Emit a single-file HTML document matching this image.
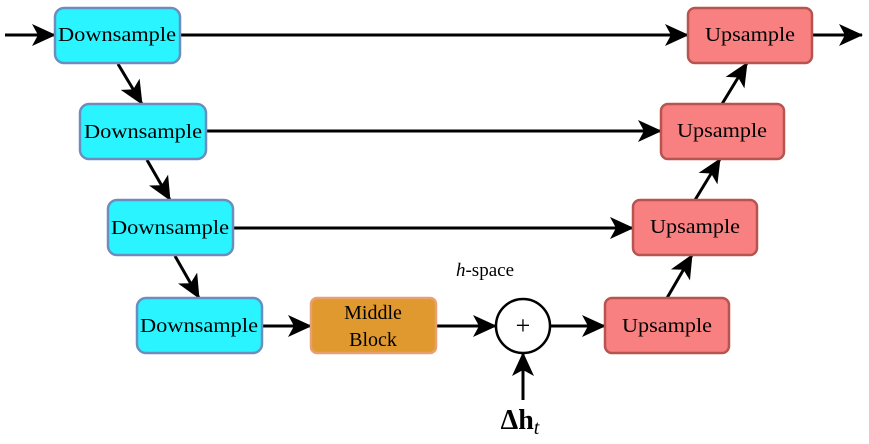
<!DOCTYPE html>
<html><head><style>body{margin:0;background:#fff}</style></head><body>
<svg width="869" height="439" viewBox="0 0 869 439" xmlns="http://www.w3.org/2000/svg" style="font-family:'Liberation Serif',serif">
<defs>
<marker id="a" markerWidth="26" markerHeight="26" refX="23" refY="12" orient="auto" markerUnits="userSpaceOnUse">
<path d="M0,1 L24,12 L0,23 L6,12 Z" fill="#000"/>
</marker>
</defs>
<g stroke="#000" stroke-width="3" fill="none" marker-end="url(#a)">
<line x1="5" y1="35" x2="55" y2="35"/>
<line x1="812" y1="35" x2="862" y2="35"/>
<line x1="180" y1="35" x2="688" y2="35"/>
<line x1="206" y1="131" x2="661" y2="131"/>
<line x1="233" y1="228" x2="633" y2="228"/>
<line x1="118" y1="64" x2="142" y2="104"/>
<line x1="147" y1="160" x2="170" y2="200"/>
<line x1="175" y1="256" x2="199" y2="298"/>
<line x1="667" y1="298" x2="692" y2="255"/>
<line x1="695" y1="200" x2="720" y2="159"/>
<line x1="722" y1="104" x2="747" y2="63"/>
<line x1="262" y1="326" x2="311" y2="326"/>
<line x1="436" y1="326" x2="496" y2="326"/>
<line x1="550" y1="326" x2="605" y2="326"/>
<line x1="523" y1="400" x2="523" y2="353"/>
</g>
<g stroke="#6c8ebf" stroke-width="2.5" fill="#29f4ff">
<rect x="55" y="8" width="125" height="55" rx="9"/>
<rect x="80" y="104" width="126" height="55" rx="9"/>
<rect x="108" y="200" width="125" height="55" rx="9"/>
<rect x="137" y="298" width="125" height="55" rx="9"/>
</g>
<rect x="311" y="298" width="125" height="55" rx="6" fill="#e0992e" stroke="#e8a070" stroke-width="2.5"/>
<g stroke="#b85450" stroke-width="2.5" fill="#f88080">
<rect x="605" y="298" width="124" height="55" rx="7"/>
<rect x="633" y="200" width="124" height="55" rx="7"/>
<rect x="661" y="104" width="123" height="55" rx="7"/>
<rect x="688" y="8" width="124" height="55" rx="7"/>
</g>
<circle cx="523" cy="326" r="27" fill="#fff" stroke="#000" stroke-width="2.5"/>
<g font-size="20" text-anchor="middle" fill="#000">
<text x="117" y="41" textLength="118" lengthAdjust="spacingAndGlyphs">Downsample</text>
<text x="143" y="138" textLength="118" lengthAdjust="spacingAndGlyphs">Downsample</text>
<text x="170" y="234" textLength="118" lengthAdjust="spacingAndGlyphs">Downsample</text>
<text x="199" y="332" textLength="118" lengthAdjust="spacingAndGlyphs">Downsample</text>
<text x="373" y="319">Middle</text>
<text x="373" y="346">Block</text>
<text x="750" y="41" textLength="90" lengthAdjust="spacingAndGlyphs">Upsample</text>
<text x="722" y="137" textLength="90" lengthAdjust="spacingAndGlyphs">Upsample</text>
<text x="695" y="233" textLength="90" lengthAdjust="spacingAndGlyphs">Upsample</text>
<text x="667" y="332" textLength="90" lengthAdjust="spacingAndGlyphs">Upsample</text>
<text x="523" y="334" font-size="26">+</text>
<text x="485" y="276" font-size="19"><tspan font-style="italic">h</tspan>-space</text>
<text x="520" y="429" font-size="28" font-weight="bold">Δh<tspan font-style="italic" font-weight="normal" font-size="20" dy="5">t</tspan></text>
</g>
</svg>
</body></html>
